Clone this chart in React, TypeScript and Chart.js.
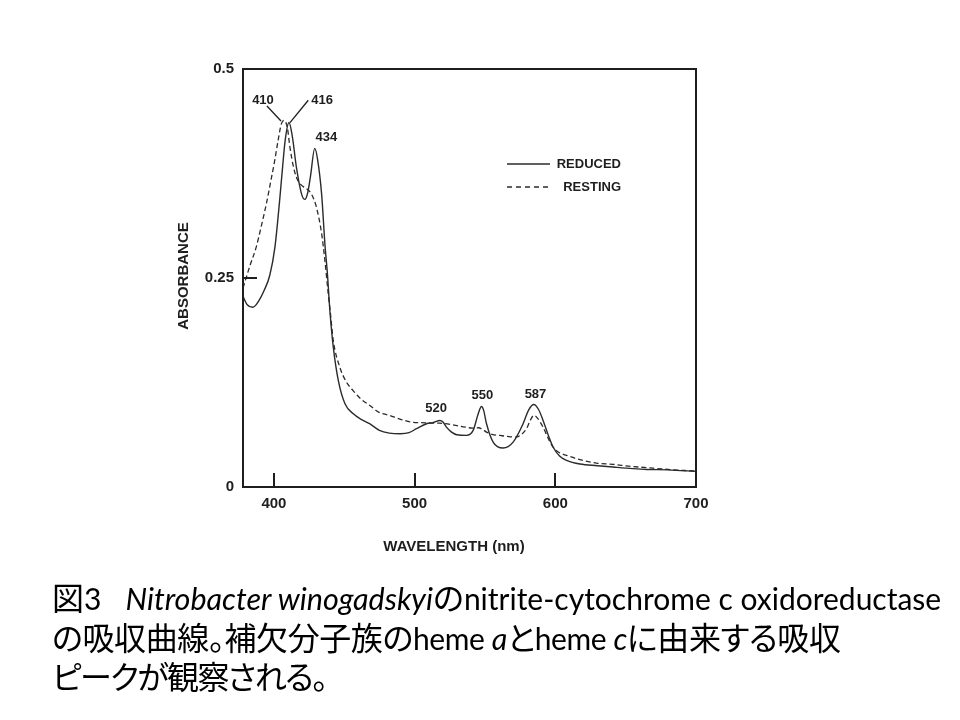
import React, { useEffect, useRef } from "react";
import { Chart, registerables } from "chart.js";

Chart.register(...registerables);

// ---- data ----
const reducedWavelength = [
  378, 381, 385, 389, 393, 397, 400.7, 404, 406, 408, 410.7, 413, 416, 419.7, 422, 424, 426, 429, 431, 433.9,
  436.2, 438, 439.8, 442.2, 445.8, 450.5, 456.4, 462, 468, 475, 482, 490, 496, 501.3, 508.5, 513, 518, 520,
  522.6, 526, 530, 536.8, 541.6, 545.2, 547.5, 549, 551.1, 555.8, 562.9, 570, 577.1, 581, 584.7, 588, 591.3,
  595, 598.4, 603, 608, 617.5, 630, 641, 655, 665, 680, 700,
];
const reducedAbsorbance = [
  0.228, 0.218, 0.215, 0.222, 0.235, 0.253, 0.287, 0.342, 0.38, 0.415, 0.436, 0.42, 0.382, 0.35, 0.344, 0.352,
  0.372, 0.405, 0.392, 0.35, 0.291, 0.255, 0.21, 0.167, 0.127, 0.0996, 0.0876, 0.081, 0.0757, 0.0677, 0.0645,
  0.0637, 0.065, 0.0697, 0.0757, 0.077, 0.0796, 0.078, 0.0716, 0.066, 0.0625, 0.0617, 0.0677, 0.0876, 0.0963,
  0.092, 0.0757, 0.0537, 0.0466, 0.0537, 0.0757, 0.092, 0.0987, 0.093, 0.0796, 0.062, 0.0478, 0.037, 0.0319,
  0.0275, 0.0255, 0.0239, 0.022, 0.021, 0.0205, 0.0187,
];
const restingWavelength = [
  378, 383, 387.4, 391, 394.5, 398, 400.5, 403, 405.2, 407.3, 409.5, 411.4, 414, 416.1, 419, 422, 424.5, 426.8,
  430.3, 433.9, 436.2, 438.6, 440, 442.2, 446.9, 451, 456.4, 462, 468.2, 474.4, 482.4, 490, 498.1, 505, 512,
  517.9, 521.8, 528, 536, 541, 545.5, 548, 551.1, 555, 560.6, 566, 572.4, 576, 579.5, 582, 584.7, 587, 591.3,
  595, 598.4, 603, 608, 617.5, 629.3, 641, 652, 665, 680, 700,
];
const restingAbsorbance = [
  0.238, 0.265, 0.287, 0.312, 0.338, 0.368, 0.39, 0.415, 0.434, 0.4385, 0.43, 0.406, 0.382, 0.37, 0.362, 0.358,
  0.355, 0.35, 0.334, 0.303, 0.271, 0.231, 0.21, 0.175, 0.143, 0.127, 0.115, 0.105, 0.0975, 0.0896, 0.0855,
  0.081, 0.0775, 0.077, 0.0765, 0.0764, 0.0757, 0.074, 0.0716, 0.0705, 0.0709, 0.069, 0.0657, 0.063, 0.0617,
  0.0605, 0.0597, 0.063, 0.0697, 0.079, 0.0856, 0.083, 0.0716, 0.058, 0.0478, 0.041, 0.0378, 0.0327, 0.0285,
  0.0271, 0.025, 0.0231, 0.021, 0.019,
];

const xTickValues = [400, 500, 600, 700];
const yTickValues = [0, 0.25, 0.5];
const innerXTickValues = [400, 500, 600];
const innerYTickValues = [0.25];

const peakLabelText = ["410", "416", "434", "520", "550", "587"];
const peakLabelWavelength = [392.2, 434.3, 437.3, 515.2, 548.2, 585.9];
const peakLabelAbsorbance = [0.462, 0.462, 0.418, 0.094, 0.1095, 0.111];

// leader lines for 410 / 416 (data units)
const leaderFromWavelength = [395, 424.4];
const leaderFromAbsorbance = [0.4557, 0.4626];
const leaderToWavelength = [405, 411.4];
const leaderToAbsorbance = [0.4378, 0.4358];

const seriesNames = ["REDUCED", "RESTING"];
const xTitle = "WAVELENGTH (nm)";
const yTitle = "ABSORBANCE";

const INK = "#1e1e1e";
const LINE = "#2b2b2b";
const AXIS_FONT = '"Liberation Sans", Arial, sans-serif';

const decorPlugin = {
  id: "decor",
  afterDatasetsDraw(chart: any) {
    const { ctx, chartArea } = chart;
    const xs = chart.scales.x;
    const ys = chart.scales.y;
    const { left, right, top, bottom } = chartArea;
    ctx.save();
    // frame
    ctx.strokeStyle = INK;
    ctx.lineWidth = 2;
    ctx.strokeRect(left, top, right - left, bottom - top);
    // inner ticks
    innerXTickValues.forEach((v) => {
      const px = Math.round(xs.getPixelForValue(v));
      ctx.beginPath();
      ctx.moveTo(px, bottom);
      ctx.lineTo(px, bottom - 14);
      ctx.stroke();
    });
    innerYTickValues.forEach((v) => {
      const py = Math.round(ys.getPixelForValue(v));
      ctx.beginPath();
      ctx.moveTo(left, py);
      ctx.lineTo(left + 14, py);
      ctx.stroke();
    });
    // peak labels
    ctx.fillStyle = INK;
    ctx.font = `bold 13px ${AXIS_FONT}`;
    ctx.textAlign = "center";
    ctx.textBaseline = "middle";
    peakLabelText.forEach((t, i) => {
      ctx.fillText(t, xs.getPixelForValue(peakLabelWavelength[i]), ys.getPixelForValue(peakLabelAbsorbance[i]));
    });
    // leader lines
    ctx.lineWidth = 1.3;
    leaderFromWavelength.forEach((w, i) => {
      ctx.beginPath();
      ctx.moveTo(xs.getPixelForValue(w), ys.getPixelForValue(leaderFromAbsorbance[i]));
      ctx.lineTo(xs.getPixelForValue(leaderToWavelength[i]), ys.getPixelForValue(leaderToAbsorbance[i]));
      ctx.stroke();
    });
    // legend
    const lx0 = left + 264;
    const lx1 = left + 307;
    const legY = [top + 95, top + 118];
    ctx.lineWidth = 1.4;
    ctx.strokeStyle = LINE;
    legY.forEach((y, i) => {
      ctx.setLineDash(i === 0 ? [] : [5, 4]);
      ctx.beginPath();
      ctx.moveTo(lx0, y);
      ctx.lineTo(lx1, y);
      ctx.stroke();
    });
    ctx.setLineDash([]);
    ctx.font = `bold 13px ${AXIS_FONT}`;
    ctx.textAlign = "right";
    seriesNames.forEach((n, i) => ctx.fillText(n, left + 378, legY[i]));
    // axis titles
    ctx.font = `bold 15px ${AXIS_FONT}`;
    ctx.textAlign = "center";
    ctx.fillText(xTitle, left + 211, bottom + 60);
    ctx.translate(left - 59, (top + bottom) / 2 - 2);
    ctx.rotate(-Math.PI / 2);
    ctx.fillText(yTitle, 0, 0);
    ctx.restore();
  },
};

function SpectrumChart() {
  const ref = useRef<HTMLCanvasElement | null>(null);
  useEffect(() => {
    if (!ref.current) return;
    const chart = new Chart(ref.current, {
      type: "line",
      data: {
        datasets: [
          {
            label: seriesNames[0],
            data: reducedWavelength.map((x, i) => ({ x, y: reducedAbsorbance[i] })),
            borderColor: LINE,
            borderWidth: 1.4,
            pointRadius: 0,
            cubicInterpolationMode: "monotone",
            fill: false,
          },
          {
            label: seriesNames[1],
            data: restingWavelength.map((x, i) => ({ x, y: restingAbsorbance[i] })),
            borderColor: LINE,
            borderWidth: 1.3,
            borderDash: [5, 3],
            pointRadius: 0,
            cubicInterpolationMode: "monotone",
            fill: false,
          },
        ],
      },
      options: {
        animation: false,
        responsive: false,
        maintainAspectRatio: false,
        layout: { padding: { top: 69, right: 264, left: 0, bottom: 0 } },
        plugins: { legend: { display: false }, tooltip: { enabled: false } },
        scales: {
          x: {
            type: "linear",
            min: 378,
            max: 700,
            afterFit: (s: any) => {
              s.height = 720 - 487;
            },
            afterBuildTicks: (s: any) => {
              s.ticks = xTickValues.map((v) => ({ value: v }));
            },
            grid: { display: false, drawTicks: false },
            border: { display: false },
            ticks: {
              color: INK,
              padding: 8,
              font: { family: AXIS_FONT, size: 15, weight: "bold" },
              maxRotation: 0,
              autoSkip: false,
              callback: (v: any) => String(v),
            },
          },
          y: {
            type: "linear",
            min: 0,
            max: 0.5,
            afterFit: (s: any) => {
              s.width = 243;
            },
            afterBuildTicks: (s: any) => {
              s.ticks = yTickValues.map((v) => ({ value: v }));
            },
            grid: { display: false, drawTicks: false },
            border: { display: false },
            ticks: {
              color: INK,
              padding: 9,
              font: { family: AXIS_FONT, size: 15, weight: "bold" },
              autoSkip: false,
              callback: (v: any) => String(v),
            },
          },
        },
      },
      plugins: [decorPlugin],
    } as any);
    return () => chart.destroy();
  }, []);
  return <canvas ref={ref} width={960} height={720} style={{ display: "block", position: "absolute", left: 0, top: 0 }} />;
}

const latin: React.CSSProperties = { fontFamily: "Lato, sans-serif", fontSize: 30 };
const latinItalic: React.CSSProperties = { fontFamily: "Lato, sans-serif", fontSize: 30.5, fontStyle: "italic" };

export default function App() {
  const lineStyle = (top: number): React.CSSProperties => ({
    position: "absolute",
    left: 52,
    top,
    whiteSpace: "nowrap",
    fontFamily: '"Noto Sans CJK JP", sans-serif',
    fontFeatureSettings: '"palt" 1',
    fontSize: 32,
    lineHeight: "38px",
    color: "#000",
  });
  return (
    <div style={{ position: "absolute", left: 0, top: 0, width: 960, height: 720, background: "#fff", overflow: "hidden" }}>
      <SpectrumChart />
      <div style={lineStyle(577)}>
        図<span style={latin}>3</span>
        <span style={{ ...latinItalic, marginLeft: 24 }}>Nitrobacter winogadskyi</span>の
        <span style={latin}>nitrite-cytochrome c oxidoreductase</span>
      </div>
      <div style={{ ...lineStyle(617), letterSpacing: "-0.4px" }}>
        の吸収曲線。補欠分子族の<span style={latin}>heme </span>
        <span style={latinItalic}>a</span>と<span style={latin}>heme </span>
        <span style={latinItalic}>c</span>に由来する吸収
      </div>
      <div style={{ ...lineStyle(656), letterSpacing: "-1.6px" }}>ピークが観察される。</div>
    </div>
  );
}
